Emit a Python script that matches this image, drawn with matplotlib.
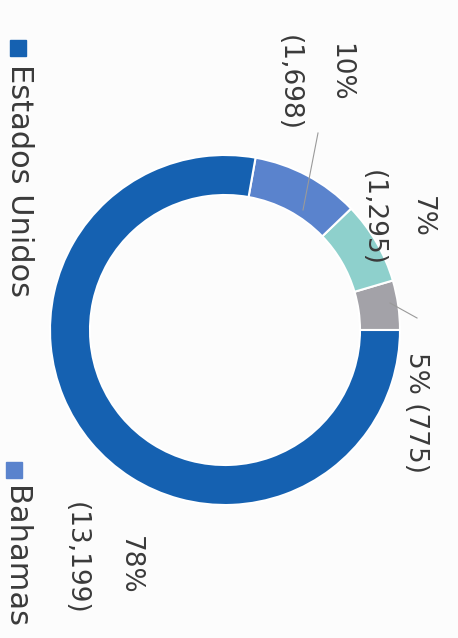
import matplotlib
matplotlib.use("Agg")
import matplotlib.pyplot as plt

# data (slices in drawing order, counter-clockwise from the right)
paises = ["Otros", "Otro", "Bahamas", "Estados Unidos"]
valores = [775, 1295, 1698, 13199]
pct_labels = ["5%", "7%", "10%", "78%"]
val_labels = ["(775)", "(1,295)", "(1,698)", "(13,199)"]
colores = ["#a3a2a8", "#8ed0cc", "#5a83cd", "#1561b1"]

legend_names = ["Estados Unidos", "Bahamas"]
legend_colors = ["#1561b1", "#5a83cd"]

plt.rcParams['font.family'] = ['DejaVu Sans']

fig = plt.figure(figsize=(4.58, 6.38), dpi=100)
fig.patch.set_facecolor("#fcfcfc")
ax = fig.add_axes([0, 0, 1, 1])

H = 638
cx, cy, r = 225, H - 330, 175
ax.pie(valores, colors=colores, startangle=0, counterclock=True,
       center=(cx, cy), radius=r, frame=True,
       wedgeprops=dict(width=40, edgecolor='white', linewidth=1.5))
ax.set_xlim(0, 458)
ax.set_ylim(0, 638)
ax.set_aspect('equal')
ax.axis('off')

txt = "#3a3a3a"
fs = 19
# label positions (image coords), rotated text
pos_pct = [None, (422, 217), (340, 72), (130, 565)]
pos_val = [None, (373, 218), (289, 83), (76, 558)]
for i in range(1, 4):
    ax.text(pos_pct[i][0], H - pos_pct[i][1], pct_labels[i], rotation=-90,
            ha='center', va='center', fontsize=fs, color=txt)
    ax.text(pos_val[i][0], H - pos_val[i][1], val_labels[i], rotation=-90,
            ha='center', va='center', fontsize=fs, color=txt)
ax.text(416, H - 412, pct_labels[0] + " " + val_labels[0], rotation=-90,
        ha='center', va='center', fontsize=fs, color=txt)

# leader lines
ax.plot([318, 303], [H - 133, H - 210], color="#9a9a9a", lw=0.8)
ax.plot([390, 417], [H - 303, H - 318], color="#9a9a9a", lw=0.8)

# legend (rotated)
leg_pos = [(18, 48), (14, 470)]
for (lx, ly), name, c in zip(leg_pos, legend_names, legend_colors):
    ax.add_patch(plt.Rectangle((lx - 8, H - ly - 8), 16, 16, color=c))
    ax.text(lx + 1, H - ly - 16, name, rotation=-90, ha='center', va='top',
            fontsize=22, color=txt)

fig.savefig("out.png", dpi=100, facecolor=fig.get_facecolor())
